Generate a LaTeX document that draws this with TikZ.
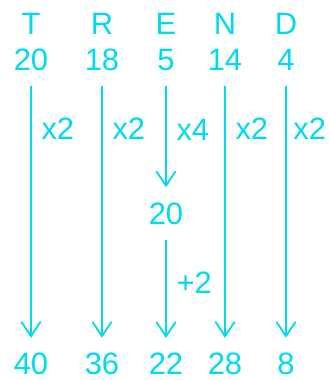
\documentclass[tikz,border=0pt]{standalone}
\usepackage{fontspec}
\setmainfont{Liberation Sans}
\usetikzlibrary{arrows.meta}
\definecolor{trendcyan}{RGB}{0,218,240}
\begin{document}
\begin{tikzpicture}[x=0.025cm, y=-0.025cm, >={Straight Barb[length=0.36cm, width=0.48cm]},
		every node/.style={text=trendcyan, font=\fontsize{22}{24}\selectfont, inner sep=0pt},
		num/.style={outer ysep=0.38cm},
		lab/.style={right, xshift=0.24cm}]
	\useasboundingbox (0,0) rectangle (328,380);
	% 1. 字母行
	\node (tl) at (31,23.5) {T};
	\node (rl) at (102,23.5) {R};
	\node (el) at (166,23.5) {E};
	\node (nl) at (225,23.5) {N};
	\node (dl) at (286,23.5) {D};
	
	% 2. 字母序号
	\node[num] (tv) at (31,60) {20};
	\node[num] (rv) at (102,60) {18};
	\node[num] (ev) at (166,60) {5};
	\node[num] (nv) at (225,60) {14};
	\node[num] (dv) at (286,60) {4};
	
	% 3. 中间结果与最终结果
	\node[num] (em) at (166,213.5) {20};
	\node[num] (tb) at (31,364) {40};
	\node[num] (rb) at (102,364) {36};
	\node[num] (eb) at (166,364) {22};
	\node[num] (nb) at (225,364) {28};
	\node[num] (db) at (286,364) {8};
	
	% 4. 运算箭头 (右侧标签略收紧以免出界)
	\draw[->, trendcyan, line width=1.3pt] (tv) -- node[lab, pos=0.17] {x2} (tb);
	\draw[->, trendcyan, line width=1.3pt] (rv) -- node[lab, pos=0.17] {x2} (rb);
	\draw[->, trendcyan, line width=1.3pt] (ev) -- node[lab, pos=0.43] {x4} (em);
	\draw[->, trendcyan, line width=1.3pt] (em) -- node[lab, pos=0.44] {+2} (eb);
	\draw[->, trendcyan, line width=1.3pt] (nv) -- node[lab, pos=0.17] {x2} (nb);
	\draw[->, trendcyan, line width=1.3pt] (dv) -- node[lab, pos=0.17, xshift=-0.08cm] {x2} (db);
\end{tikzpicture}
\end{document}
